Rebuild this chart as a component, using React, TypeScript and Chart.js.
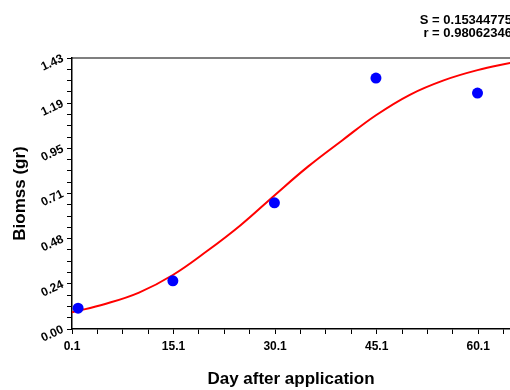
import { useEffect, useRef } from 'react';
import { Chart, registerables } from 'chart.js';

Chart.register(...registerables);

// Observed data
const days = [1, 15, 30, 45, 60];
const biomass = [0.11, 0.254, 0.666, 1.324, 1.245];

// Fitted curve
const fitDays = [0.1, 5, 10, 15, 20, 25, 30, 35, 40, 45, 50, 55, 60, 65];
const fitBiomass = [0.088, 0.132, 0.192, 0.285, 0.41, 0.548, 0.705, 0.858, 0.995, 1.128, 1.236, 1.312, 1.366, 1.405];

// Axis ticks
const xTickLabels = ['0.1', '15.1', '30.1', '45.1', '60.1'];
const yTickLabels = ['0.00', '0.24', '0.48', '0.71', '0.95', '1.19', '1.43'];
const xMin = 0.1;
const xMax = 64.8;
const yMin = 0;
const yMax = 1.43;
const minorPerMajor = 4;

const statLines = ['S = 0.15344775', 'r = 0.98062346'];

const FONT = '"Liberation Sans", Arial, sans-serif';

const xMajorStep = parseFloat(xTickLabels[1]) - parseFloat(xTickLabels[0]);
const xTickValues: number[] = [];
for (let v = xMin, i = 0; v <= xMax + 1e-9; i++, v = xMin + (i * xMajorStep) / minorPerMajor) xTickValues.push(v);
const yTickValues: number[] = [];
const yCount = (yTickLabels.length - 1) * minorPerMajor;
for (let i = 0; i <= yCount; i++) yTickValues.push(yMin + ((yMax - yMin) * i) / yCount);

const framePlugin = {
  id: 'frameAndStats',
  afterDraw(chart: any) {
    const { ctx, chartArea } = chart;
    ctx.save();
    ctx.strokeStyle = '#000';
    ctx.lineWidth = 1.2;
    ctx.beginPath();
    ctx.moveTo(chartArea.left, chartArea.top);
    ctx.lineTo(chartArea.right, chartArea.top);
    ctx.stroke();
    ctx.font = `bold 13px ${FONT}`;
    ctx.textAlign = 'right';
    ctx.textBaseline = 'middle';
    ctx.fillStyle = '#000';
    statLines.forEach((t, i) => ctx.fillText(t, chart.width + 2, 20 + i * 13));
    ctx.restore();
  },
};

export default function App() {
  const ref = useRef<HTMLCanvasElement>(null);
  useEffect(() => {
    document.body.style.margin = '0';
    const chart = new Chart(ref.current!, {
      type: 'scatter',
      data: {
        datasets: [
          {
            label: 'Observed',
            data: days.map((d, i) => ({ x: d, y: biomass[i] })),
            backgroundColor: '#0000ff',
            borderColor: '#0000ff',
            pointRadius: 5.5,
            pointBorderWidth: 0,
            showLine: false,
          },
          {
            label: 'Fit',
            data: fitDays.map((d, i) => ({ x: d, y: fitBiomass[i] })),
            showLine: true,
            borderColor: '#ff0000',
            borderWidth: 2,
            pointRadius: 0,
            tension: 0.4,
          } as any,
        ],
      },
      options: {
        animation: false,
        responsive: false,
        layout: { autoPadding: false, padding: { top: 58, right: 0, left: 0, bottom: 0 } },
        plugins: { legend: { display: false }, tooltip: { enabled: false } },
        scales: {
          x: {
            type: 'linear',
            min: xMin,
            max: xMax,
            afterBuildTicks: (scale: any) => {
              scale.ticks = xTickValues.map((v) => ({ value: v }));
            },
            afterFit: (scale: any) => {
              scale.height = 61;
            },
            grid: { drawOnChartArea: false, drawTicks: true, tickLength: 5, color: '#000' },
            border: { display: true, color: '#000', width: 1.5 },
            ticks: {
              autoSkip: false,
              maxRotation: 0,
              minRotation: 0,
              padding: 5,
              color: '#000',
              font: { family: FONT, size: 12, weight: 'bold' },
              callback: (_v: any, index: number) =>
                index % minorPerMajor === 0 ? xTickLabels[index / minorPerMajor] ?? '' : '',
            },
            title: {
              display: true,
              text: 'Day after application',
              color: '#000',
              font: { family: FONT, size: 17, weight: 'bold' },
              padding: { top: 0, bottom: 0 },
            },
          },
          y: {
            type: 'linear',
            min: yMin,
            max: yMax,
            afterBuildTicks: (scale: any) => {
              scale.ticks = yTickValues.map((v) => ({ value: v }));
            },
            afterFit: (scale: any) => {
              scale.width = 72;
            },
            grid: { drawOnChartArea: false, drawTicks: true, tickLength: 5, color: '#000' },
            border: { display: true, color: '#000', width: 1.5 },
            ticks: {
              autoSkip: false,
              minRotation: 25,
              maxRotation: 25,
              padding: 4,
              color: '#000',
              font: { family: FONT, size: 12, weight: 'bold' },
              callback: (_v: any, index: number) =>
                index % minorPerMajor === 0 ? yTickLabels[index / minorPerMajor] ?? '' : '',
            },
            title: {
              display: true,
              text: 'Biomss (gr)',
              color: '#000',
              font: { family: FONT, size: 17, weight: 'bold' },
              padding: { top: 10, bottom: 0 },
            },
          },
        },
      },
      plugins: [framePlugin],
    });
    return () => chart.destroy();
  }, []);
  return <canvas ref={ref} width={510} height={390} />;
}
